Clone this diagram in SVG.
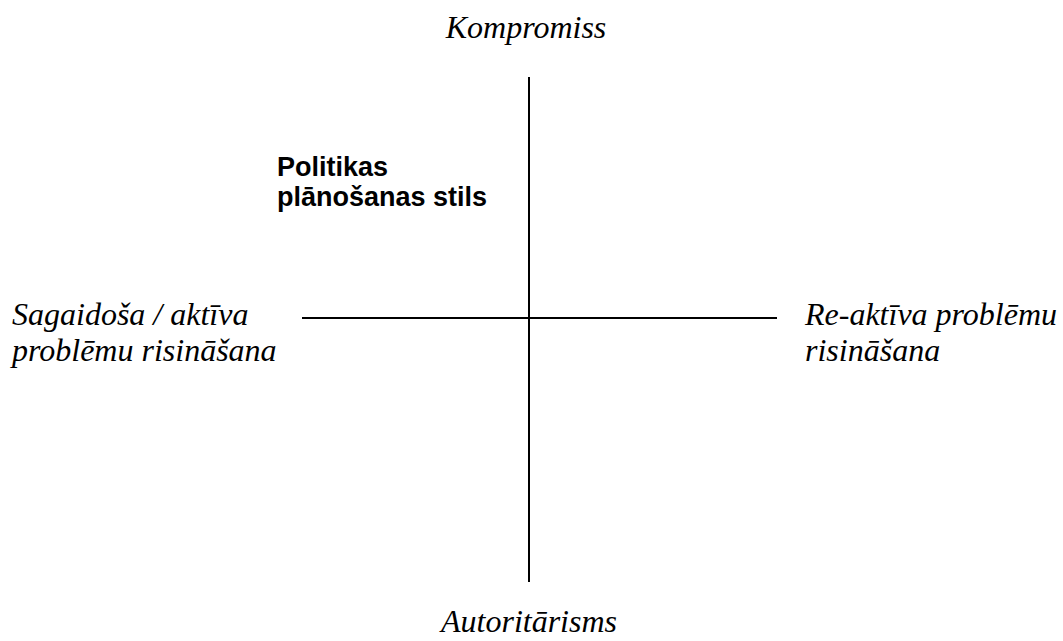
<svg xmlns="http://www.w3.org/2000/svg" width="1063" height="641" viewBox="0 0 1063 641">
<style>
.lbl{font-family:"Liberation Serif","Times New Roman",serif;font-style:italic;font-size:32px;fill:#000}
.ttl{font-family:"Liberation Sans",Arial,sans-serif;font-weight:bold;font-size:27px;fill:#000}
.axis{stroke:#000;stroke-width:2;fill:none}
</style>
<rect width="1063" height="641" fill="#fff"/>
<g id="connectors">
<line class="axis" x1="529" y1="77" x2="529" y2="582"/>
<line class="axis" x1="302" y1="318" x2="777" y2="318"/>
</g>
<g id="top"><text class="lbl" x="526" y="38" text-anchor="middle">Kompromiss</text></g>
<g id="bottom"><text class="lbl" x="529" y="632" text-anchor="middle">Autoritārisms</text></g>
<g id="left"><text class="lbl" x="12" y="325">Sagaidoša / aktīva</text><text class="lbl" x="12" y="361">problēmu risināšana</text></g>
<g id="right"><text class="lbl" x="805" y="325">Re-aktīva problēmu</text><text class="lbl" x="805" y="361">risināšana</text></g>
<g id="title"><text class="ttl" x="277" y="176">Politikas</text><text class="ttl" x="277" y="206">plānošanas stils</text></g>
</svg>
